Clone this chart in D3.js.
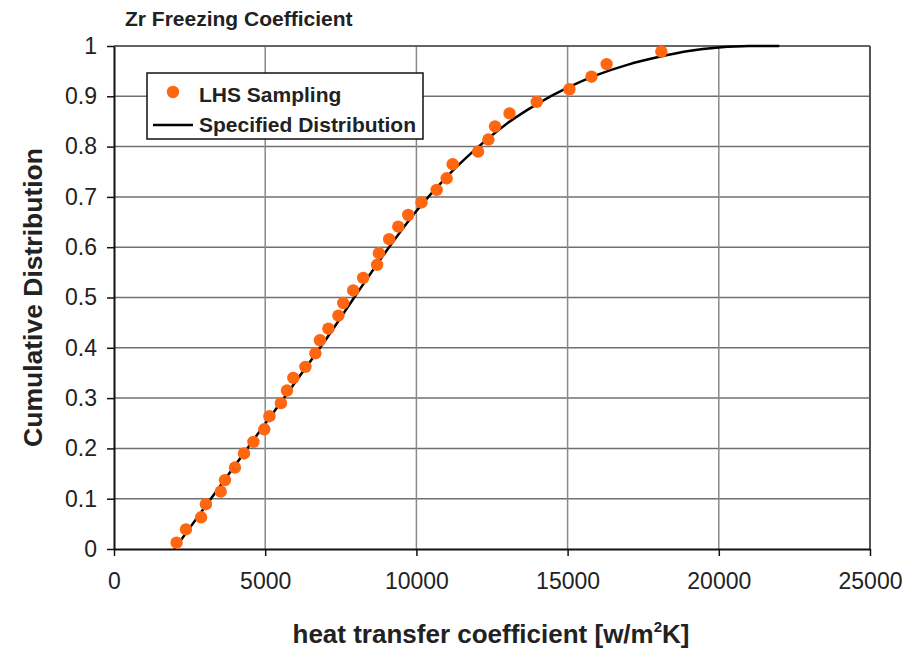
<!DOCTYPE html>
<html>
<head>
<meta charset="utf-8">
<script src="https://cdn.jsdelivr.net/npm/d3@7"></script>
<style>
  html, body { margin: 0; padding: 0; background: #fff; }
  svg { display: block; font-family: "Liberation Sans", Arial, sans-serif; }
</style>
</head>
<body>
<svg id="chart" width="920" height="650"></svg>
<script>
// ---- data ----
const titleText = "Zr Freezing Coefficient";
const xTicks = [0, 5000, 10000, 15000, 20000, 25000];
const yTicks = [0, 0.1, 0.2, 0.3, 0.4, 0.5, 0.6, 0.7, 0.8, 0.9, 1];
const yTickLabels = ["0", "0.1", "0.2", "0.3", "0.4", "0.5", "0.6", "0.7", "0.8", "0.9", "1"];

// LHS sampling points (heat transfer coefficient, cumulative probability)
const lhsX = [2070, 2380, 2880, 3040, 3530, 3670, 4000, 4300, 4610, 4970,
              5140, 5520, 5720, 5930, 6330, 6660, 6810, 7090, 7420, 7580,
              7910, 8240, 8700, 8760, 9100, 9400, 9730, 10170, 10670, 11000,
              11200, 12040, 12380, 12600, 13080, 13980, 15060, 15790, 16290, 18100];
const lhsP = [0.0125, 0.039, 0.063, 0.089, 0.114, 0.137, 0.162, 0.190, 0.213, 0.238,
              0.264, 0.290, 0.315, 0.340, 0.362, 0.389, 0.415, 0.438, 0.464, 0.489,
              0.514, 0.539, 0.565, 0.588, 0.616, 0.641, 0.664, 0.689, 0.714, 0.737,
              0.765, 0.790, 0.814, 0.840, 0.866, 0.889, 0.914, 0.939, 0.964, 0.989];

// Specified distribution (CDF)
const distX = [2000, 3000, 4000, 5000, 6000, 7000, 8000, 9000, 10000, 11000,
               12000, 13000, 14000, 15000, 16000, 17000, 18000, 19000, 20000, 21000, 22000];
const distP = [0, 0.083, 0.166, 0.249, 0.332, 0.416, 0.505, 0.592, 0.672, 0.740,
               0.797, 0.846, 0.885, 0.917, 0.943, 0.963, 0.978, 0.990, 0.997, 1.0, 1.0];

const legendLabels = ["LHS Sampling", "Specified Distribution"];

// ---- drawing ----
(function () {
const svg = d3.select("#chart");
const pL = 114, pR = 870, pT = 46, pB = 549;

const x = d3.scaleLinear().domain([0, 25000]).range([pL, pR]);
const y = d3.scaleLinear().domain([0, 1]).range([pB, pT]);

// gridlines
svg.append("g").selectAll("line").data(yTicks.filter(d => d > 0)).join("line")
  .attr("x1", pL).attr("x2", pR)
  .attr("y1", d => y(d)).attr("y2", d => y(d))
  .attr("stroke", "#707070").attr("stroke-width", 1.5);
svg.append("g").selectAll("line").data(xTicks.filter(d => d > 0)).join("line")
  .attr("x1", d => x(d)).attr("x2", d => x(d))
  .attr("y1", pT).attr("y2", pB)
  .attr("stroke", "#8a8a8a").attr("stroke-width", 1.5);
// plot border top/right
svg.append("line").attr("x1", pL).attr("x2", pR).attr("y1", pT).attr("y2", pT)
  .attr("stroke", "#555").attr("stroke-width", 1.5);
svg.append("line").attr("x1", pR).attr("x2", pR).attr("y1", pT).attr("y2", pB)
  .attr("stroke", "#555").attr("stroke-width", 2);

// axes
const yAxis = d3.axisLeft(y).tickValues(yTicks)
  .tickFormat((d, i) => yTickLabels[i]).tickSize(7).tickPadding(10).tickSizeOuter(0);
const gy = svg.append("g").attr("transform", `translate(${pL},0)`).call(yAxis);
gy.selectAll("text").attr("font-size", 23).attr("fill", "#222")
  .attr("font-family", "'Liberation Sans', Arial, sans-serif");
gy.selectAll("line").attr("stroke", "#111").attr("stroke-width", 1.5);
gy.select(".domain").attr("stroke", "#111").attr("stroke-width", 2);

const xAxis = d3.axisBottom(x).tickValues(xTicks)
  .tickFormat(d3.format("d")).tickSize(7).tickPadding(17).tickSizeOuter(0);
const gx = svg.append("g").attr("transform", `translate(0,${pB})`).call(xAxis);
gx.selectAll("text").attr("font-size", 23).attr("fill", "#222")
  .attr("font-family", "'Liberation Sans', Arial, sans-serif");
gx.selectAll("line").attr("stroke", "#111").attr("stroke-width", 1.5);
gx.select(".domain").attr("stroke", "#111").attr("stroke-width", 2);

// distribution line
const distData = distX.map((d, i) => [d, distP[i]]);
const line = d3.line().x(d => x(d[0])).y(d => y(d[1])).curve(d3.curveMonotoneX);
svg.append("path").datum(distData).attr("d", line)
  .attr("fill", "none").attr("stroke", "#000").attr("stroke-width", 2.5);

// LHS points
const lhsData = lhsX.map((d, i) => [d, lhsP[i]]);
svg.append("g").selectAll("circle").data(lhsData).join("circle")
  .attr("cx", d => x(d[0])).attr("cy", d => y(d[1])).attr("r", 6.2)
  .attr("fill", "#ff6610");

// legend
const lg = svg.append("g");
lg.append("rect").attr("x", 147).attr("y", 73).attr("width", 276).attr("height", 66)
  .attr("fill", "#fff").attr("stroke", "#111").attr("stroke-width", 1.5);
lg.append("circle").attr("cx", 173).attr("cy", 92).attr("r", 6.2).attr("fill", "#ff6610");
lg.append("line").attr("x1", 153).attr("x2", 193).attr("y1", 125).attr("y2", 125)
  .attr("stroke", "#000").attr("stroke-width", 2.5);
lg.append("text").attr("x", 199).attr("y", 102).text(legendLabels[0])
  .attr("font-size", 21).attr("font-weight", "bold").attr("fill", "#222");
lg.append("text").attr("x", 199).attr("y", 132).text(legendLabels[1])
  .attr("font-size", 21).attr("font-weight", "bold").attr("fill", "#222");

// title
svg.append("text").attr("x", 125).attr("y", 26).text(titleText)
  .attr("font-size", 21).attr("font-weight", "bold").attr("fill", "#222");

// axis titles
svg.append("text")
  .attr("transform", `translate(42,${(pT + pB) / 2}) rotate(-90)`)
  .attr("text-anchor", "middle").attr("font-size", 26.5).attr("font-weight", "bold")
  .attr("fill", "#222").text("Cumulative Distribution");

const xt = svg.append("text").attr("x", 491).attr("y", 643)
  .attr("text-anchor", "middle").attr("font-size", 26).attr("font-weight", "bold").attr("fill", "#222");
xt.append("tspan").text("heat transfer coefficient [w/m");
xt.append("tspan").attr("font-size", 15).attr("dy", -11).text("2");
xt.append("tspan").attr("dy", 11).text("K]");
})();
</script>
</body>
</html>
